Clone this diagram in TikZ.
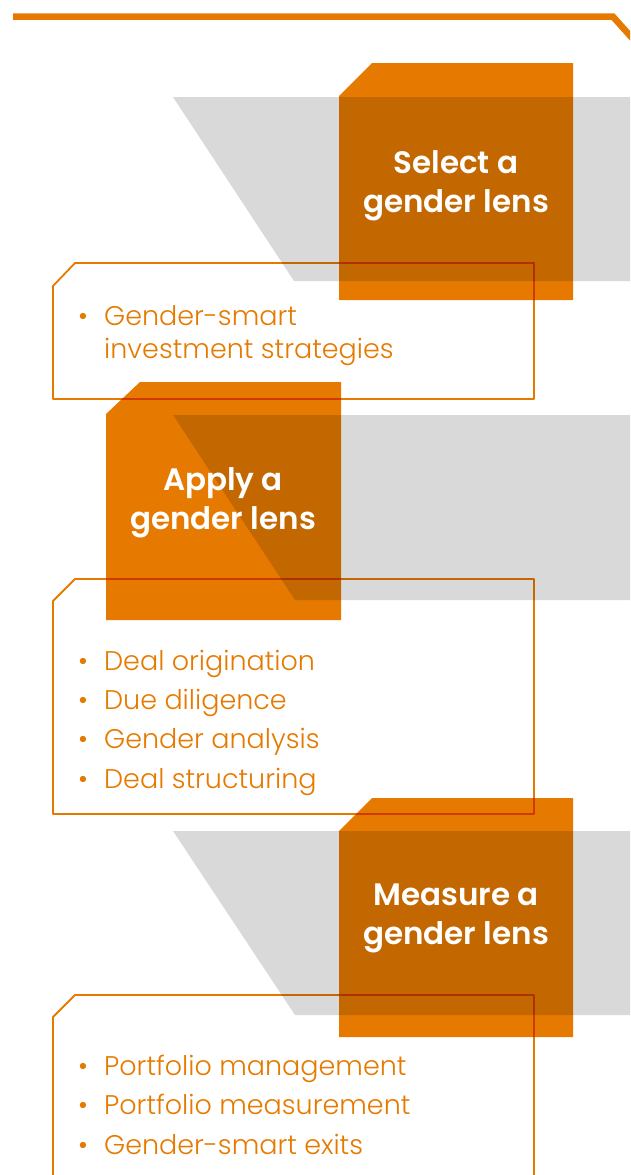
\documentclass[tikz,border=0pt]{standalone}
\usepackage{fontspec}
\setmainfont{Poppins}[UprightFont=* Light,BoldFont=* SemiBold]
\usepackage{tikz}
\definecolor{ebxxqq}{rgb}{0.902,0.478,0.}
\definecolor{sqsqsq}{rgb}{0.851,0.851,0.851}
\newcommand{\lensitem}[1]{\makebox[26pt][l]{•}#1}

\begin{document}
\begin{tikzpicture}[line cap=round,line join=round,x=1pt,y=-1pt,
  lensbox/.style={fill=ebxxqq,blend mode=multiply},
  shade/.style={fill=sqsqsq},
  listframe/.style={line width=1.8pt,color=ebxxqq,blend mode=multiply},
  lenstitle/.style={text=white,inner sep=0pt,align=center,font=\bfseries\fontsize{31}{39}\selectfont},
  lenslist/.style={text=ebxxqq,inner sep=0pt,align=left,anchor=base west,font=\fontsize{27}{39.3}\selectfont}]
\useasboundingbox (0,0) rectangle (630,1175);
\clip (0,0) rectangle (630,1175);
\draw [line width=6.5pt,color=ebxxqq,line cap=butt,line join=miter] (13,16.7)-- (613,16.7)-- (633,39);
% select
\fill [shade] (173,97)-- (630,97)-- (630,281)-- (294,281)-- cycle;
\fill [lensbox] (372,63)-- (573,63)-- (573,300)-- (339,300)-- (339,96)-- cycle;
\draw [listframe] (75,263)-- (534,263)-- (534,399)-- (53,399)-- (53,286)-- cycle;
% apply
\fill [shade] (173,415)-- (630,415)-- (630,600)-- (295,600)-- cycle;
\fill [lensbox] (140,382)-- (341,382)-- (341,620)-- (106,620)-- (106,414)-- cycle;
\draw [listframe] (75,579)-- (534,579)-- (534,814)-- (53,814)-- (53,601)-- cycle;
% measure
\fill [shade] (173,831)-- (630,831)-- (630,1015)-- (295,1015)-- cycle;
\fill [lensbox] (372,798)-- (573,798)-- (573,1037)-- (339,1037)-- (339,831)-- cycle;
\draw [listframe] (53,1185)-- (53,1017)-- (75,995)-- (534,995)-- (534,1185);
\node [lenstitle] (select) at (456,185.5) {Select a\\gender lens};
\node [lenstitle] (apply) at (223,503) {Apply a\\gender lens};
\node [lenstitle] (measure) at (456,918) {Measure a\\gender lens};
\node [lenslist,font=\fontsize{27}{33}\selectfont] (selectlist) at (78,358) {\lensitem{Gender-smart}\\\hspace*{26pt}investment strategies};
\node [lenslist] (applylist) at (78,788) {\lensitem{Deal origination}\\\lensitem{Due diligence}\\\lensitem{Gender analysis}\\\lensitem{Deal structuring}};
\node [lenslist] (measurelist) at (78,1154) {\lensitem{Portfolio management}\\\lensitem{Portfolio measurement}\\\lensitem{Gender-smart exits}};
\end{tikzpicture}
\end{document}
